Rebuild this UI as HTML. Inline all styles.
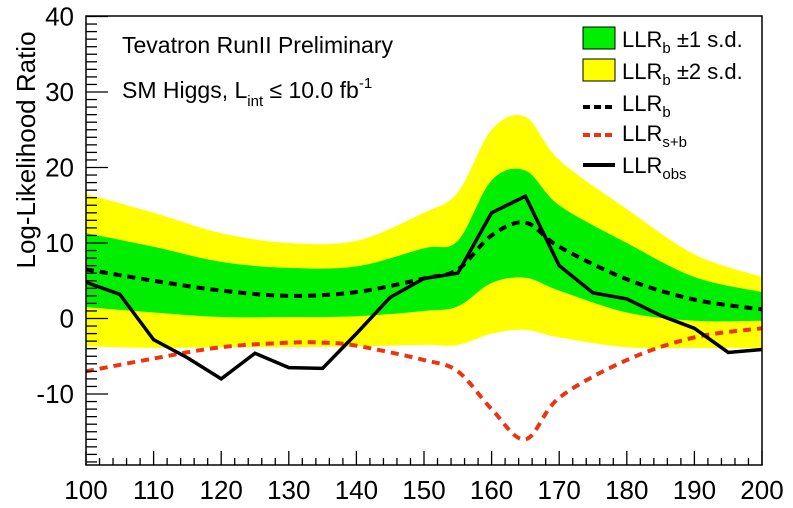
<!DOCTYPE html>
<html><head><meta charset="utf-8"><style>
body{margin:0;background:#fff;}
svg text{font-family:"Liberation Sans",sans-serif;}
</style></head><body>
<svg id="s" width="793" height="503" xmlns="http://www.w3.org/2000/svg"></svg>
<script>
const X=m=>86+(m-100)*6.76, Y=v=>318.5-7.55*v;
const ms=[100,110,120,130,140,150,155,160,165,170,180,190,200];
const lb=[6.5,5,3.7,3,3.5,5.3,6.5,11,12.7,9.5,5.2,2.5,1.2];
const u1=[11.3,9.5,7.5,6.7,6.9,9.3,10.3,18.3,19.6,15,10,5.5,3.5];
const l1=[1.5,0.8,0.2,0.2,0.3,1,1.6,4.7,5.4,3.7,0.8,-0.3,-0.3];
const u2=[16.5,14,11.3,10,10.3,14,16.7,25,26.7,21,14.5,8.5,5.5];
const l2=[-3.7,-3.9,-3.8,-3.8,-3.7,-3.5,-3.5,-2,-1.5,-2.5,-3.8,-3.9,-3.9];
const sbm=[100,110,120,130,135,140,150,155,160,165,170,180,190,200];
const sb=[-7,-5.3,-3.8,-3.2,-3.2,-3.6,-5.5,-7,-12,-16,-10.5,-5.5,-2.5,-1.3];
const om=[100,105,110,115,120,125,130,135,140,145,150,155,160,165,170,175,180,185,190,195,200];
const ob=[4.8,3.2,-2.8,-5.2,-8,-4.6,-6.5,-6.6,-2,2.8,5.3,6,14,16.2,7,3.4,2.6,0.4,-1.3,-4.5,-4.1];
function cr(xs,ys){
 let p=xs.map((x,i)=>[X(x),Y(ys[i])]);let d=`M${p[0]}`;
 for(let i=0;i<p.length-1;i++){const a=p[Math.max(0,i-1)],b=p[i],c=p[i+1],e=p[Math.min(p.length-1,i+2)];
 d+=` C${b[0]+(c[0]-a[0])/6},${b[1]+(c[1]-a[1])/6} ${c[0]-(e[0]-b[0])/6},${c[1]-(e[1]-b[1])/6} ${c[0]},${c[1]}`;}return d;}
function band(u,l){let d=cr(ms,u);let r=cr(ms.slice().reverse(),l.slice().reverse());return d+' L'+r.slice(1)+' Z';}
let h='';
h+=`<path d="${band(u2,l2)}" fill="#ffff00"/>`;
h+=`<path d="${band(u1,l1)}" fill="#00ee00"/>`;
h+=`<path d="${cr(ms,lb)}" fill="none" stroke="#000" stroke-width="4" stroke-dasharray="8,6"/>`;
h+=`<path d="${cr(sbm,sb)}" fill="none" stroke="#ee3311" stroke-width="4" stroke-dasharray="8,6"/>`;
h+=`<polyline points="${om.map((m,i)=>X(m)+','+Y(ob[i])).join(' ')}" fill="none" stroke="#000" stroke-width="3.5"/>`;
h+=`<rect x="86" y="16" width="676" height="449" fill="none" stroke="#000" stroke-width="1.5"/>`;
for(let v=-19;v<=40;v++){const y=Y(v);if(y>465)continue;const L=v%10==0?22:11;h+=`<line x1="86" x2="${86+L}" y1="${y}" y2="${y}" stroke="#000" stroke-width="1.3"/>`;}
for(let v=-10;v<=40;v+=10)h+=`<text x="74" y="${Y(v)+9}" font-size="26" text-anchor="end">${v}</text>`;
for(let m=100;m<=200;m+=2){const L=m%10==0?14:7;h+=`<line x1="${X(m)}" x2="${X(m)}" y1="465" y2="${465-L}" stroke="#000" stroke-width="1.3"/>`;}
for(let m=100;m<=200;m+=10)h+=`<text x="${X(m)}" y="499" font-size="26" text-anchor="middle">${m}</text>`;
h+=`<text transform="translate(35,150) rotate(-90)" font-size="26" text-anchor="middle">Log-Likelihood Ratio</text>`;
h+=`<text x="122" y="53" font-size="23">Tevatron RunII Preliminary</text>`;
h+=`<text x="122" y="98" font-size="23">SM Higgs, L<tspan font-size="15" dy="8">int</tspan><tspan dy="-8"> ≤ 10.0 fb</tspan><tspan font-size="15" dy="-10">-1</tspan></text>`;
h+=`<rect x="583" y="27" width="32" height="22" fill="#00ee00" stroke="#000"/>`;
h+=`<rect x="583" y="59" width="32" height="22" fill="#ffff00" stroke="#000"/>`;
h+=`<line x1="583" x2="615" y1="107" y2="107" stroke="#000" stroke-width="4" stroke-dasharray="7,4"/>`;
h+=`<line x1="583" x2="615" y1="135" y2="135" stroke="#ee3311" stroke-width="4" stroke-dasharray="7,4"/>`;
h+=`<line x1="583" x2="615" y1="165" y2="165" stroke="#000" stroke-width="4"/>`;
const sub=(y,s,t)=>`<text x="622" y="${y}" font-size="22">LLR<tspan font-size="15" dy="6">${s}</tspan><tspan dy="-6">${t||''}</tspan></text>`;
h+=sub(47,'b','  ±1 s.d.');h+=sub(79,'b','  ±2 s.d.');h+=sub(111,'b');h+=sub(141,'s+b');h+=sub(173,'obs');
document.getElementById('s').innerHTML=h;
</script>
</body></html>
